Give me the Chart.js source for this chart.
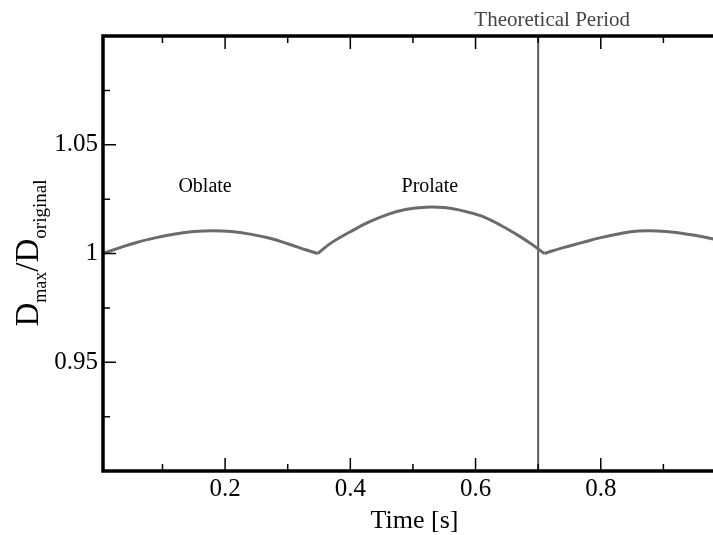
<!DOCTYPE html>
<html>
<head>
<meta charset="utf-8">
<script src="https://cdn.jsdelivr.net/npm/chart.js@4/dist/chart.umd.min.js"></script>
<style>
  html, body { margin: 0; padding: 0; overflow: hidden; background: #fff; width: 713px; height: 535px; }
  canvas { display: block; }
</style>
</head>
<body>
<canvas id="c" width="740" height="535"></canvas>
<script>
// ---- data (three arches between sharp cusps) ----
const oblateTime1  = [0.005, 0.03, 0.06, 0.09, 0.12, 0.15, 0.18, 0.21, 0.24, 0.27, 0.30, 0.33, 0.348];
const oblateRatio1 = [1.0000, 1.0025, 1.0052, 1.0073, 1.0090, 1.0101, 1.0105, 1.0101, 1.0089, 1.0071, 1.0045, 1.0016, 1.0000];
const prolateTime  = [0.348, 0.37, 0.40, 0.43, 0.46, 0.49, 0.52, 0.55, 0.58, 0.61, 0.64, 0.67, 0.69, 0.71];
const prolateRatio = [1.0000, 1.0050, 1.0100, 1.0145, 1.0180, 1.0203, 1.0213, 1.0211, 1.0196, 1.0172, 1.0130, 1.0080, 1.0042, 1.0000];
const oblateTime2  = [0.71, 0.74, 0.77, 0.80, 0.83, 0.86, 0.89, 0.92, 0.95, 0.978, 1.0];
const oblateRatio2 = [1.0000, 1.0027, 1.0050, 1.0073, 1.0091, 1.0103, 1.0104, 1.0097, 1.0084, 1.0068, 1.0055];
const periodTime = [0.7, 0.7];
const periodRatio = [0.9, 1.1];
const xMajorTicks = [0.2, 0.4, 0.6, 0.8];
const xMinorTicks = [0.1, 0.3, 0.5, 0.7, 0.9];
const yMajorTicks = [0.95, 1, 1.05];
const yMinorTicks = [0.925, 0.975, 1.025, 1.075];
const regionNames = ['Oblate', 'Prolate'];
const regionTime = [0.168, 0.527];
const regionRatio = [1.0305, 1.0305];
const periodLabel = 'Theoretical Period';
const xTitle = 'Time [s]';

const SERIF = "'Liberation Serif', 'Times New Roman', serif";

const framePlugin = {
  id: 'frame',
  afterDraw(chart) {
    const ctx = chart.ctx;
    const a = chart.chartArea;
    const xs = chart.scales.x, ys = chart.scales.y;
    ctx.save();
    ctx.strokeStyle = '#000';
    ctx.lineWidth = 1.5;
    const major = 13, minor = 7;
    function xt(v, len) {
      const px = xs.getPixelForValue(v);
      ctx.beginPath();
      ctx.moveTo(px, a.bottom); ctx.lineTo(px, a.bottom - len);
      ctx.moveTo(px, a.top); ctx.lineTo(px, a.top + len);
      ctx.stroke();
    }
    function yt(v, len) {
      const py = ys.getPixelForValue(v);
      ctx.beginPath();
      ctx.moveTo(a.left, py); ctx.lineTo(a.left + len, py);
      ctx.moveTo(a.right, py); ctx.lineTo(a.right - len, py);
      ctx.stroke();
    }
    xMajorTicks.forEach(v => xt(v, major));
    xMinorTicks.forEach(v => xt(v, minor));
    yMajorTicks.forEach(v => yt(v, major));
    yMinorTicks.forEach(v => yt(v, minor));
    ctx.lineWidth = 3.5;
    ctx.strokeRect(a.left, a.top, a.right - a.left, a.bottom - a.top);

    ctx.fillStyle = '#000';
    ctx.textAlign = 'center';
    ctx.textBaseline = 'middle';
    ctx.font = '20px ' + SERIF;
    regionNames.forEach((n, i) => {
      ctx.fillText(n, xs.getPixelForValue(regionTime[i]), ys.getPixelForValue(regionRatio[i]));
    });
    ctx.fillStyle = '#444';
    ctx.font = '21px ' + SERIF;
    ctx.textBaseline = 'alphabetic';
    ctx.fillText(periodLabel, xs.getPixelForValue(periodTime[0]) + 14, 26);

    ctx.fillStyle = '#000';
    ctx.font = '26px ' + SERIF;
    ctx.fillText(xTitle, (a.left + a.right) / 2, 528);

    const parts = [['D', 33, 0], ['max', 18, 8], ['/D', 33, 0], ['original', 19, 8]];
    let total = 0;
    parts.forEach(p => { ctx.font = p[1] + 'px ' + SERIF; total += ctx.measureText(p[0]).width; });
    const cy = 253;
    ctx.translate(38, cy + total / 2);
    ctx.rotate(-Math.PI / 2);
    ctx.textAlign = 'left';
    let xpos = 0;
    parts.forEach(p => {
      ctx.font = p[1] + 'px ' + SERIF;
      ctx.fillText(p[0], xpos, p[2]);
      xpos += ctx.measureText(p[0]).width;
    });
    ctx.restore();
  }
};

const curveStyle = { borderColor: '#6b6b6b', borderWidth: 3, pointRadius: 0, tension: 0.4, fill: false };

new Chart(document.getElementById('c'), {
  type: 'line',
  data: {
    datasets: [
      Object.assign({ data: oblateTime1.map((t, i) => ({ x: t, y: oblateRatio1[i] })) }, curveStyle),
      Object.assign({ data: prolateTime.map((t, i) => ({ x: t, y: prolateRatio[i] })) }, curveStyle),
      Object.assign({ data: oblateTime2.map((t, i) => ({ x: t, y: oblateRatio2[i] })) }, curveStyle),
      {
        data: periodTime.map((t, i) => ({ x: t, y: periodRatio[i] })),
        borderColor: '#5c5c5c',
        borderWidth: 2,
        pointRadius: 0,
        fill: false
      }
    ]
  },
  options: {
    responsive: false,
    animation: false,
    events: [],
    layout: { padding: { left: 0, top: 36, right: 14, bottom: 0 } },
    plugins: { legend: { display: false }, tooltip: { enabled: false } },
    scales: {
      x: {
        type: 'linear',
        min: 0.005,
        max: 1.0,
        grid: { display: false, drawTicks: false },
        border: { display: false },
        afterBuildTicks(s) { s.ticks = xMajorTicks.map(v => ({ value: v })); },
        afterFit(s) { s.height = 64; },
        ticks: {
          color: '#000',
          padding: 3,
          maxRotation: 0,
          autoSkip: false,
          font: { family: SERIF, size: 25 },
          callback: v => String(v)
        }
      },
      y: {
        type: 'linear',
        min: 0.9,
        max: 1.1,
        grid: { display: false, drawTicks: false },
        border: { display: false },
        afterBuildTicks(s) { s.ticks = yMajorTicks.map(v => ({ value: v })); },
        afterFit(s) { s.width = 103; },
        ticks: {
          color: '#000',
          padding: 5,
          autoSkip: false,
          font: { family: SERIF, size: 25 },
          callback: v => String(v)
        }
      }
    }
  },
  plugins: [framePlugin]
});
</script>
</body>
</html>
